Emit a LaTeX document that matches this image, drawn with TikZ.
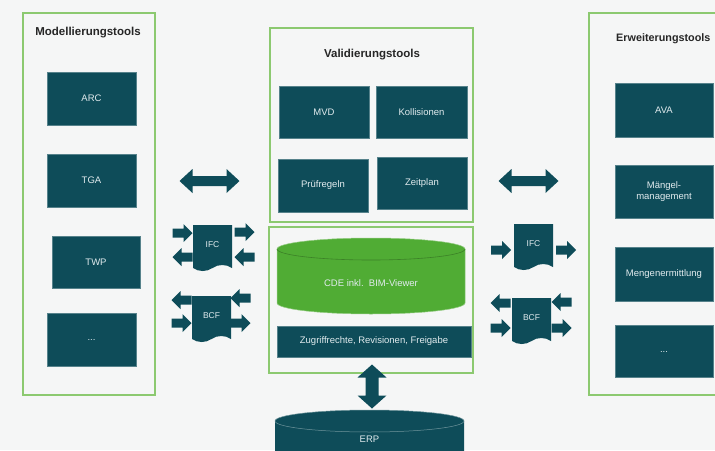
\documentclass[tikz,border=0pt]{standalone}
\usepackage{fontspec}
\setmainfont{Liberation Sans}
\usetikzlibrary{shapes.symbols}
\definecolor{bg}{RGB}{245,246,246}
\definecolor{tealbox}{RGB}{14,76,89}
\definecolor{framegreen}{RGB}{140,201,112}
\definecolor{cdegreen}{RGB}{80,172,52}
\definecolor{boxtext}{RGB}{225,235,238}
\tikzset{
  frame/.style={draw=framegreen, line width=1.4pt},
  box/.style={fill=tealbox, draw=tealbox!70!white, line width=0.4pt, text=boxtext,
    font=\fontsize{9.5}{11}\selectfont, align=center, inner sep=1pt},
  title/.style={font=\fontsize{11.5}{13}\selectfont\bfseries, text=black!85},
  docnode/.style={tape, tape bend top=none, tape bend bottom=in and out, tape bend height=6pt,
    fill=tealbox, text=boxtext, minimum width=39pt, minimum height=46pt,
    font=\fontsize{8.5}{10}\selectfont, inner sep=0pt},
  rarr/.pic={\fill[tealbox] (-10,-4.5) -- (1,-4.5) -- (1,-9) -- (10,0) -- (1,9) -- (1,4.5) -- (-10,4.5) -- cycle;},
  larr/.pic={\fill[tealbox] (10,-4.5) -- (-1,-4.5) -- (-1,-9) -- (-10,0) -- (-1,9) -- (-1,4.5) -- (10,4.5) -- cycle;},
  hdbl/.pic={\fill[tealbox] (-30,0) -- (-17,-12) -- (-17,-5) -- (17,-5) -- (17,-12) -- (30,0) -- (17,12) -- (17,5) -- (-17,5) -- (-17,12) -- cycle;},
  vdbl/.pic={\fill[tealbox] (0,-22) -- (-14.5,-9) -- (-6.5,-9) -- (-6.5,9) -- (-14.5,9) -- (0,22) -- (14.5,9) -- (6.5,9) -- (6.5,-9) -- (14.5,-9) -- cycle;}
}
\begin{document}
\begin{tikzpicture}[x=1pt,y=-1pt]
\useasboundingbox (0,0) rectangle (715,450);
\clip (0,0) rectangle (715,450);
\fill[bg] (0,0) rectangle (715,450);

% frames
\draw[frame] (23,13) rectangle (155,395);
\draw[frame] (270,28) rectangle (473,222);
\draw[frame] (269,227) rectangle (473,373);
\draw[frame] (589,13) rectangle (745,395);

% titles
\node[title] (tL) at (88,33) {Modellierungstools};
\node[title] (tM) at (372,55) {Validierungstools};
\node[title, font=\fontsize{10.8}{13}\selectfont\bfseries, anchor=west, inner sep=0pt] (tR) at (616,39) {Erweiterungstools};

% left column
\node[box, minimum width=89pt, minimum height=53pt] (arc) at (91.5,98.5) {ARC};
\node[box, minimum width=89pt, minimum height=53pt] (tga) at (91.5,180.5) {TGA};
\node[box, minimum width=88pt, minimum height=52pt] (twp) at (96,262) {TWP};
\node[box, minimum width=89pt, minimum height=53pt] (dl) at (91.5,339.5) {...};

% validation
\node[box, minimum width=90pt, minimum height=52pt] (mvd) at (324,112) {MVD};
\node[box, minimum width=91pt, minimum height=52pt] (kol) at (421.5,112) {Kollisionen};
\node[box, minimum width=90pt, minimum height=53pt] (pruef) at (323,185.5) {Prüfregeln};
\node[box, minimum width=90pt, minimum height=52pt] (zeit) at (422,183) {Zeitplan};

% right column
\node[box, minimum width=98pt, minimum height=54pt] (ava) at (664,110) {AVA};
\node[box, minimum width=98pt, minimum height=53pt] (maen) at (664,191.5) {Mängel-\\management};
\node[box, minimum width=98pt, minimum height=54pt] (meng) at (664,274) {Mengenermittlung};
\node[box, minimum width=98pt, minimum height=52pt] (dr) at (664,351.5) {...};

% CDE cylinder
\fill[cdegreen] (277,249) -- (277,303) arc[start angle=180, end angle=0, x radius=94, y radius=11]
  -- (465,249) arc[start angle=0, end angle=-180, x radius=94, y radius=11] -- cycle;
\draw[cdegreen!60!white, line width=0.5pt] (277,249) -- (277,303) arc[start angle=180, end angle=0, x radius=94, y radius=11]
  -- (465,249) arc[start angle=0, end angle=-180, x radius=94, y radius=11];
\draw[cdegreen!75!black, line width=0.6pt] (277,249) arc[start angle=180, end angle=0, x radius=94, y radius=11];
\node[text=boxtext, font=\fontsize{9.5}{11}\selectfont] (cde) at (371,283) {CDE inkl.\ \ BIM-Viewer};

\node[box, minimum width=194pt, minimum height=31pt] (zug) at (374,341.5) {Zugriffrechte, Revisionen, Freigabe};

% ERP cylinder
\fill[tealbox] (275,421) -- (275,470) -- (464,470) -- (464,421)
  arc[start angle=0, end angle=-180, x radius=94.5, y radius=11] -- cycle;
\draw[tealbox!60!white, line width=0.5pt] (275,421) arc[start angle=180, end angle=-180, x radius=94.5, y radius=11];
\node[text=boxtext, font=\fontsize{9.5}{11}\selectfont] (erp) at (369.5,439) {ERP};

% double arrows
\pic at (209.5,181) {hdbl};
\pic at (528.5,181) {hdbl};
\pic at (372,386.5) {vdbl};

% documents
\node[docnode] (ifcL) at (212.5,245) {IFC};
\node[docnode] (bcfL) at (211.5,316) {BCF};
\node[docnode] (ifcR) at (533.5,244) {IFC};
\node[docnode] (bcfR) at (531.5,318) {BCF};

% small arrows left IFC
\pic at (182.5,233) {rarr};
\pic at (182.5,257) {larr};
\pic at (244.5,232) {rarr};
\pic at (244.5,257) {larr};
% left BCF
\pic at (181.5,300) {larr};
\pic at (181.5,323) {rarr};
\pic at (240.5,298) {larr};
\pic at (240.5,323) {rarr};
% right IFC
\pic at (501,250) {rarr};
\pic at (566,250) {rarr};
% right BCF
\pic at (500.5,303) {larr};
\pic at (500.5,328) {rarr};
\pic at (561.5,302) {larr};
\pic at (561.5,328) {rarr};
\end{tikzpicture}
\end{document}
